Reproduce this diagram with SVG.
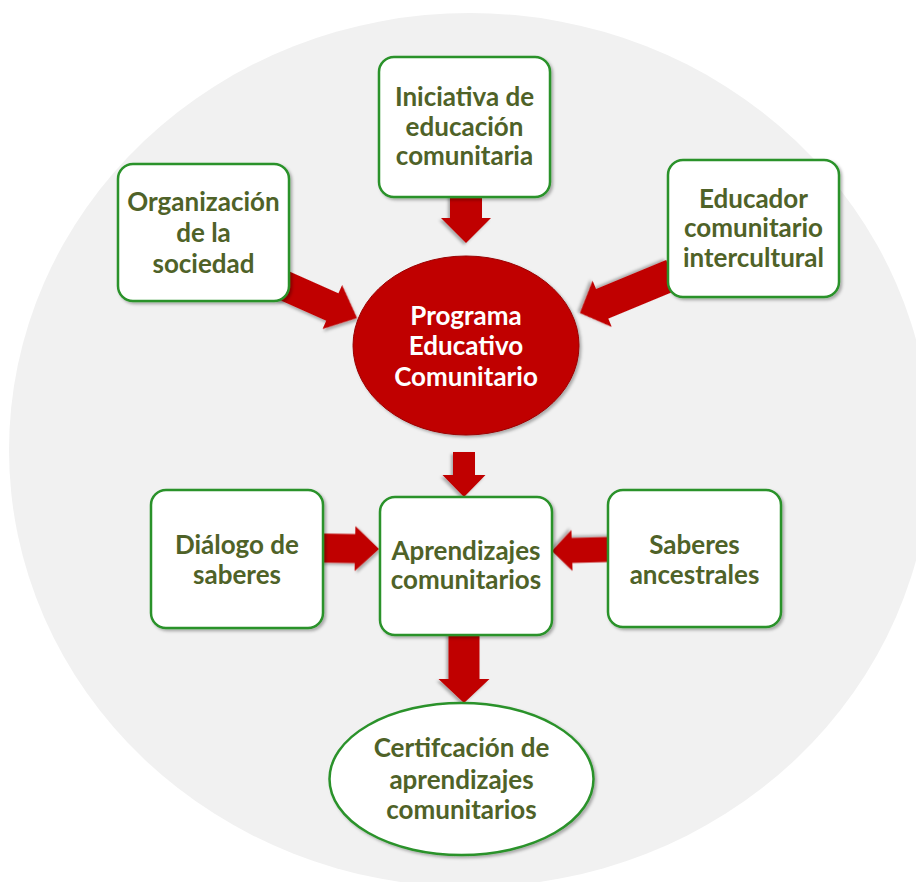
<svg xmlns="http://www.w3.org/2000/svg" width="916" height="882" viewBox="0 0 916 882">
<defs>
<filter id="sh" x="-20%" y="-20%" width="140%" height="140%">
<feDropShadow dx="2" dy="2" stdDeviation="1.8" flood-color="#000" flood-opacity="0.3"/>
</filter>
</defs>
<style>
.box{fill:#ffffff;stroke:#2a922a;stroke-width:2.5;filter:url(#sh)}
.arr{fill:#c00000;filter:url(#sh)}
.t{font-family:Lato,"Liberation Sans",sans-serif;font-weight:bold;font-size:26px;fill:#4f6228;text-anchor:middle}
.w{fill:#ffffff}
</style>
<rect width="916" height="882" fill="#ffffff"/>
<ellipse cx="470" cy="450" rx="461" ry="437" fill="#f1f1f1"/>
<g id="connectors">
<polygon class="arr" transform="translate(357,318) rotate(24)" points="-90,-15 -27,-15 -27,-24 0,0 -27,24 -27,15 -90,15"/>
<polygon class="arr" transform="translate(466,243) rotate(90)" points="-50,-16 -25,-16 -25,-25 0,0 -25,25 -25,16 -50,16"/>
<polygon class="arr" transform="translate(580,313) rotate(157.5)" points="-100,-16 -24,-16 -24,-25 0,0 -24,25 -24,16 -100,16"/>
<polygon class="arr" transform="translate(464,497) rotate(90)" points="-45,-11 -22,-11 -22,-21.5 0,0 -22,21.5 -22,11 -45,11"/>
<polygon class="arr" transform="translate(379,549) rotate(1)" points="-62,-14.5 -24,-14.5 -24,-22.5 0,0 -24,22.5 -24,14.5 -62,14.5"/>
<polygon class="arr" transform="translate(552,551) rotate(178.5)" points="-62,-12.5 -20,-12.5 -20,-20.5 0,0 -20,20.5 -20,12.5 -62,12.5"/>
<polygon class="arr" transform="translate(464,703) rotate(90)" points="-75,-15.5 -24,-15.5 -24,-25.5 0,0 -24,25.5 -24,15.5 -75,15.5"/>
</g>
<g id="organizacion">
<rect class="box" x="118" y="164" width="171" height="137" rx="15"/>
<text class="t" x="203.5" y="211">Organización</text>
<text class="t" x="203.5" y="242">de la</text>
<text class="t" x="203.5" y="273">sociedad</text>
</g>
<g id="iniciativa">
<rect class="box" x="379" y="57" width="171" height="140" rx="15"/>
<text class="t" x="464.5" y="106">Iniciativa de</text>
<text class="t" x="464.5" y="136">educación</text>
<text class="t" x="464.5" y="165">comunitaria</text>
</g>
<g id="educador">
<rect class="box" x="668" y="160" width="171" height="137" rx="15"/>
<text class="t" x="753.5" y="208">Educador</text>
<text class="t" x="753.5" y="237">comunitario</text>
<text class="t" x="753.5" y="267">intercultural</text>
</g>
<g id="programa">
<ellipse cx="466" cy="345.5" rx="113" ry="89.5" fill="#c00000" stroke="#9a0000" stroke-width="1" filter="url(#sh)"/>
<text class="t w" x="466" y="325">Programa</text>
<text class="t w" x="466" y="355">Educativo</text>
<text class="t w" x="466" y="386">Comunitario</text>
</g>
<g id="dialogo">
<rect class="box" x="151" y="490" width="172" height="138" rx="15"/>
<text class="t" x="237" y="554">Diálogo de</text>
<text class="t" x="237" y="584">saberes</text>
</g>
<g id="aprendizajes">
<rect class="box" x="380" y="497" width="172" height="138" rx="15"/>
<text class="t" x="466" y="560">Aprendizajes</text>
<text class="t" x="466" y="589">comunitarios</text>
</g>
<g id="saberes">
<rect class="box" x="608" y="490" width="173" height="137" rx="15"/>
<text class="t" x="694.5" y="554">Saberes</text>
<text class="t" x="694.5" y="584">ancestrales</text>
</g>
<g id="certificacion">
<ellipse class="box" cx="461.5" cy="779" rx="132" ry="76"/>
<text class="t" x="461.5" y="757">Certifcación de</text>
<text class="t" x="461.5" y="789">aprendizajes</text>
<text class="t" x="461.5" y="819">comunitarios</text>
</g>
</svg>
